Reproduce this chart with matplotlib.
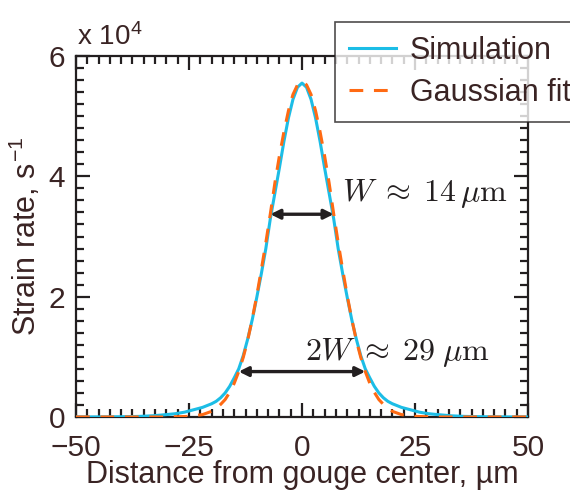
import matplotlib
matplotlib.use("Agg")
import matplotlib.pyplot as plt
from matplotlib.ticker import MultipleLocator

# ---- data (strain rate in units of 1e4 s^-1) ----
sim_x = [-50, -45, -40, -36, -33, -30, -28, -26, -24, -22, -20, -19, -18, -17, -16, -15,
         -14, -13, -12, -11, -10, -9, -8, -7, -6, -5, -4, -3, -2, -1, 0,
         1, 2, 3, 4, 5, 6, 7, 8, 9, 10, 11, 12, 13, 14, 15, 16, 17, 18, 19, 20,
         22, 24, 26, 28, 30, 33, 36, 40, 45, 50]
sim_y = [0.0, 0.001, 0.004, 0.01, 0.02, 0.04, 0.055, 0.08, 0.12, 0.16, 0.22, 0.26, 0.32, 0.40, 0.51, 0.65,
         0.80, 1.02, 1.30, 1.62, 1.99, 2.38, 2.80, 3.30, 3.72, 4.14, 4.58, 4.97, 5.28, 5.48, 5.55,
         5.48, 5.28, 4.97, 4.58, 4.14, 3.72, 3.30, 2.80, 2.38, 1.99, 1.62, 1.30, 1.02, 0.80, 0.65, 0.51, 0.40, 0.32, 0.26, 0.22,
         0.16, 0.12, 0.08, 0.055, 0.04, 0.02, 0.01, 0.004, 0.001, 0.0]

fit_x = [-50, -40, -30, -25, -22, -20, -19, -18, -17, -16, -15, -14, -13, -12, -11, -10,
         -9, -8, -7, -6, -5, -4, -3, -2, -1, 0, 1, 2, 3, 4, 5, 6, 7, 8, 9, 10,
         11, 12, 13, 14, 15, 16, 17, 18, 19, 20, 22, 25, 30, 40, 50]
fit_y = [0.0, 0.0, 0.0, 0.01, 0.04, 0.094, 0.14, 0.21, 0.29, 0.41, 0.56, 0.755, 0.99, 1.28, 1.63, 2.02,
         2.45, 2.90, 3.38, 3.89, 4.34, 4.74, 5.09, 5.36, 5.52, 5.58, 5.52, 5.36, 5.09, 4.74, 4.34, 3.89, 3.38, 2.90, 2.45, 2.02,
         1.63, 1.28, 0.99, 0.755, 0.56, 0.41, 0.29, 0.21, 0.14, 0.094, 0.04, 0.01, 0.0, 0.0, 0.0]

w_span = [-7.0, 7.0]
w_level = 3.37
w2_span = [-14.0, 14.0]
w2_level = 0.755
series_labels = ["Simulation", "Gaussian fit"]
x_ticks = [-50, -25, 0, 25, 50]
y_ticks = [0, 2, 4, 6]

# ---- style ----
plt.rcParams['font.family'] = ['Liberation Sans', 'DejaVu Sans']
plt.rcParams['mathtext.fontset'] = 'cm'
txt_col = '#3a2424'
ax_col = '#231f20'
cyan = '#1cbde6'
orange = '#ff6a13'

fig = plt.figure(figsize=(5.7, 4.91), dpi=100)
ax = fig.add_axes([76/570, 1 - 417/491, 452/570, 361/491])

ax.plot(sim_x, sim_y, color=cyan, lw=2.2, label=series_labels[0], zorder=3)
ax.plot(fit_x, fit_y, color=orange, lw=2.2, ls=(0, (4.5, 3.5)), label=series_labels[1], zorder=4)

ax.set_xlim(-50, 50)
ax.set_ylim(0, 6)
ax.set_xticks(x_ticks)
ax.set_yticks(y_ticks)
ax.set_xticklabels(['\u221250', '\u221225', '0', '25', '50'])
ax.xaxis.set_minor_locator(MultipleLocator(2.5))
ax.yaxis.set_minor_locator(MultipleLocator(0.2))
ax.tick_params(which='both', direction='in', top=True, right=True, color=ax_col, width=1.6,
               labelsize=21.5, labelcolor=txt_col)
ax.tick_params(which='major', length=10)
ax.tick_params(axis='x', which='major', pad=12)
ax.tick_params(axis='y', which='major', pad=8)
ax.tick_params(which='minor', length=5.5)
for s in ax.spines.values():
    s.set_color(ax_col)
    s.set_linewidth(1.6)

ax.set_xlabel('Distance from gouge center, \u00b5m', fontsize=22, color=txt_col, labelpad=-1)
ax.set_ylabel('Strain rate, s$^{\\mathregular{-1}}$', fontsize=22, color=txt_col, labelpad=4)
fig.text(77/570, 1 - 45/491, 'x 10$^{\\mathregular{4}}$', fontsize=20, color=txt_col, ha='left', va='baseline')

arrow_kw = dict(arrowstyle='<|-|>', color=ax_col, lw=2.4, mutation_scale=14, shrinkA=0, shrinkB=0)
ax.annotate('', xy=(w_span[0], w_level), xytext=(w_span[1], w_level), arrowprops=arrow_kw, zorder=5)
ax.annotate('', xy=(w2_span[0], w2_level), xytext=(w2_span[1], w2_level), arrowprops=arrow_kw, zorder=5)
ax.text(8.8, 3.72, r'$W\;\approx\;14\,\mu\mathrm{m}$', fontsize=23, color=ax_col, ha='left', va='center')
ax.text(0.6, 1.08, r'$2W\;\approx\;29\;\mu\mathrm{m}$', fontsize=23, color=ax_col, ha='left', va='center')

leg = fig.legend(loc='upper left', bbox_to_anchor=(335/570, 1 - 22/491), fontsize=22,
                 frameon=True, fancybox=False, edgecolor=ax_col, handlelength=1.55,
                 borderpad=0.45, labelspacing=0.4, handletextpad=0.45, borderaxespad=0)
for t in leg.get_texts():
    t.set_color(txt_col)
leg.get_frame().set_linewidth(1.2)

fig.savefig('out.png', dpi=100)
